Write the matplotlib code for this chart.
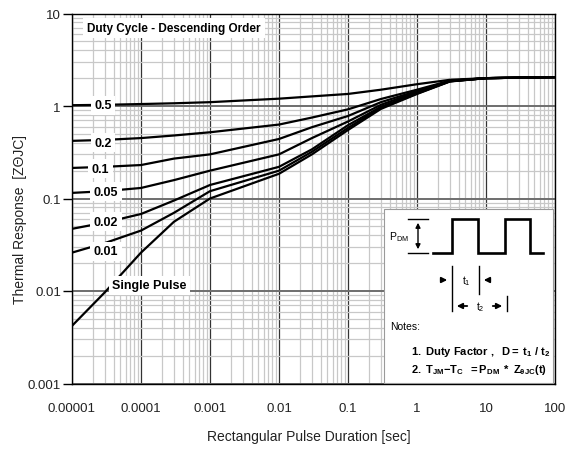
import matplotlib.pyplot as plt
from matplotlib.patches import Rectangle

plt.rcParams['mathtext.fontset'] = 'custom'
plt.rcParams['mathtext.rm'] = 'Liberation Sans'
plt.rcParams['mathtext.bf'] = 'Liberation Sans:bold'
plt.rcParams['mathtext.it'] = 'Liberation Sans:italic'
plt.rcParams['font.family'] = ['Liberation Sans', 'DejaVu Sans']

# pulse duration (s) and thermal response
pulse_sec = [1e-5, 3e-5, 1e-4, 3e-4, 1e-3, 1e-2, 3e-2, 1e-1, 3e-1, 1, 3, 10, 100]
z_05 = [1.02, 1.03, 1.05, 1.07, 1.10, 1.20, 1.27, 1.35, 1.50, 1.72, 1.92, 2.0, 2.05]
z_02 = [0.42, 0.43, 0.45, 0.48, 0.52, 0.63, 0.75, 0.92, 1.19, 1.50, 1.88, 2.0, 2.05]
z_01 = [0.214, 0.22, 0.23, 0.27, 0.30, 0.44, 0.59, 0.78, 1.10, 1.45, 1.87, 2.0, 2.05]
z_005 = [0.115, 0.12, 0.13, 0.158, 0.20, 0.30, 0.45, 0.68, 1.03, 1.42, 1.86, 2.0, 2.05]
z_002 = [0.047, 0.055, 0.068, 0.095, 0.14, 0.22, 0.34, 0.62, 0.98, 1.38, 1.85, 2.0, 2.05]
z_001 = [0.026, 0.033, 0.045, 0.07, 0.12, 0.20, 0.32, 0.58, 0.96, 1.36, 1.85, 2.0, 2.05]
z_single = [0.0042, 0.0097, 0.026, 0.056, 0.10, 0.185, 0.30, 0.55, 0.93, 1.35, 1.84, 2.0, 2.05]
curves = [z_05, z_02, z_01, z_005, z_002, z_001, z_single]
curve_names = ['0.5', '0.2', '0.1', '0.05', '0.02', '0.01', 'Single Pulse']

x_ticks = [1e-5, 1e-4, 1e-3, 1e-2, 1e-1, 1, 10, 100]
x_tick_labels = ['0.00001', '0.0001', '0.001', '0.01', '0.1', '1', '10', '100']
y_ticks = [0.001, 0.01, 0.1, 1, 10]
y_tick_labels = ['0.001', '0.01', '0.1', '1', '10']

# where the curve names sit
name_pos = [(2.8e-5, 1.02), (2.8e-5, 0.40), (2.6e-5, 0.21), (3.1e-5, 0.118),
            (3.1e-5, 0.056), (3.1e-5, 0.027), (3.8e-5, 0.0115)]

fig = plt.figure(figsize=(5.72, 4.52), dpi=100)
ax = fig.add_axes([72/572, (452-384.5)/452, 483/572, 370/452])
ax.set_xscale('log')
ax.set_yscale('log')
ax.set_xlim(1e-5, 100)
ax.set_ylim(0.001, 10)

ax.grid(which='minor', color='#c8c8c8', lw=0.9)
ax.grid(which='major', axis='x', color='#333333', lw=0.9)
ax.grid(which='major', axis='y', color='#6e6e6e', lw=1.4)
ax.set_axisbelow(True)

for z in curves:
    ax.plot(pulse_sec, z, color='black', lw=1.6, zorder=3)

for name, (px, py) in zip(curve_names, name_pos):
    ha = 'left' if name == 'Single Pulse' else 'center'
    ax.text(px, py, name, ha=ha, va='center', fontsize=9, weight='bold', zorder=4,
            bbox=dict(facecolor='white', edgecolor='none', pad=2.5))

ax.set_xticks(x_ticks, x_tick_labels)
ax.set_yticks(y_ticks, y_tick_labels)
ax.tick_params(axis='x', which='major', length=0, pad=13, labelsize=9.5, labelcolor='#222222')
ax.tick_params(axis='y', which='major', length=6.5, width=1, pad=1.5, labelsize=9.5, labelcolor='#222222')
ax.tick_params(which='minor', length=0)
for s in ax.spines.values():
    s.set_color('black')
    s.set_linewidth(1)

ax.text(0.031, 0.961, 'Duty Cycle - Descending Order', transform=ax.transAxes,
        fontsize=8.5, weight='bold', va='center', ha='left', zorder=4,
        bbox=dict(facecolor='white', edgecolor='none', pad=3))

fig.text(20/572, 1-219/452, 'Thermal Response  [Z\u0398JC]', rotation=90,
         ha='center', va='center', fontsize=10, color='#222222')
fig.text(309/572, 1-437/452, 'Rectangular Pulse Duration [sec]',
         ha='center', va='center', fontsize=10, color='#222222')


# inset with the pulse sketch, pixel positions turned into axes fractions
def af(px, py):
    return (px-72)/483, (384.5-py)/370


tr = ax.transAxes
x0, y0 = af(384, 384)
x1, y1 = af(553, 210)
ax.add_patch(Rectangle((x0, y0), x1-x0, y1-y0, transform=tr, facecolor='white',
                       edgecolor='#9a9a9a', lw=0.8, zorder=5))

wave_px = [433, 452, 452, 478, 478, 505, 505, 530, 530, 543]
wave_py = [254, 254, 220, 220, 254, 254, 220, 220, 254, 254]
wx, wy = zip(*[af(a, b) for a, b in zip(wave_px, wave_py)])
ax.plot(wx, wy, color='black', lw=1.9, transform=tr, zorder=6, solid_joinstyle='miter')

for ypx in (220, 254):
    a, b = af(408, ypx)
    c, d = af(428, ypx)
    ax.plot([a, c], [b, d], color='black', lw=1, transform=tr, zorder=6)
ax.annotate('', xy=af(418, 221), xytext=af(418, 253), xycoords=tr, textcoords=tr,
            arrowprops=dict(arrowstyle='<|-|>', color='black', lw=1, mutation_scale=7), zorder=6)
ax.text(*af(409, 237), r'$\mathregular{P_{DM}}$', transform=tr, ha='right', va='center',
        fontsize=7.5, zorder=6)

for xpx, top, bot in ((452, 267, 312), (479, 267, 295), (507, 297, 312)):
    a, b = af(xpx, top)
    c, d = af(xpx, bot)
    ax.plot([a, c], [b, d], color='black', lw=1, transform=tr, zorder=6)

arrow_kw = dict(arrowstyle='-|>', color='black', lw=1.3, mutation_scale=8)
ax.annotate('', xy=af(450, 281), xytext=af(438, 281), xycoords=tr, textcoords=tr,
            arrowprops=arrow_kw, zorder=6)
ax.annotate('', xy=af(481, 281), xytext=af(493, 281), xycoords=tr, textcoords=tr,
            arrowprops=arrow_kw, zorder=6)
ax.annotate('', xy=af(454, 307), xytext=af(470, 307), xycoords=tr, textcoords=tr,
            arrowprops=arrow_kw, zorder=6)
ax.annotate('', xy=af(505, 307), xytext=af(490, 307), xycoords=tr, textcoords=tr,
            arrowprops=arrow_kw, zorder=6)
ax.text(*af(466, 281), r'$\mathregular{t_1}$', transform=tr, ha='center', va='center',
        fontsize=7.5, zorder=6)
ax.text(*af(480, 307), r'$\mathregular{t_2}$', transform=tr, ha='center', va='center',
        fontsize=7.5, zorder=6)

ax.text(*af(390, 327), 'Notes:', transform=tr, ha='left', va='center', fontsize=7.5,
        zorder=6)
ax.text(*af(411, 352), r'$\mathbf{1.\ Duty\ Factor\ ,\ \ D{=}\ t_1\ /\ t_2}$', transform=tr,
        ha='left', va='center', fontsize=8, zorder=6)
ax.text(*af(411, 370), r'$\mathbf{2.\ T_{JM}{-}T_{C}\ \ {=}P_{DM}\ *\ Z_{\theta JC}(t)}$',
        transform=tr, ha='left', va='center', fontsize=8, zorder=6)

fig.savefig('out.png', dpi=100)
